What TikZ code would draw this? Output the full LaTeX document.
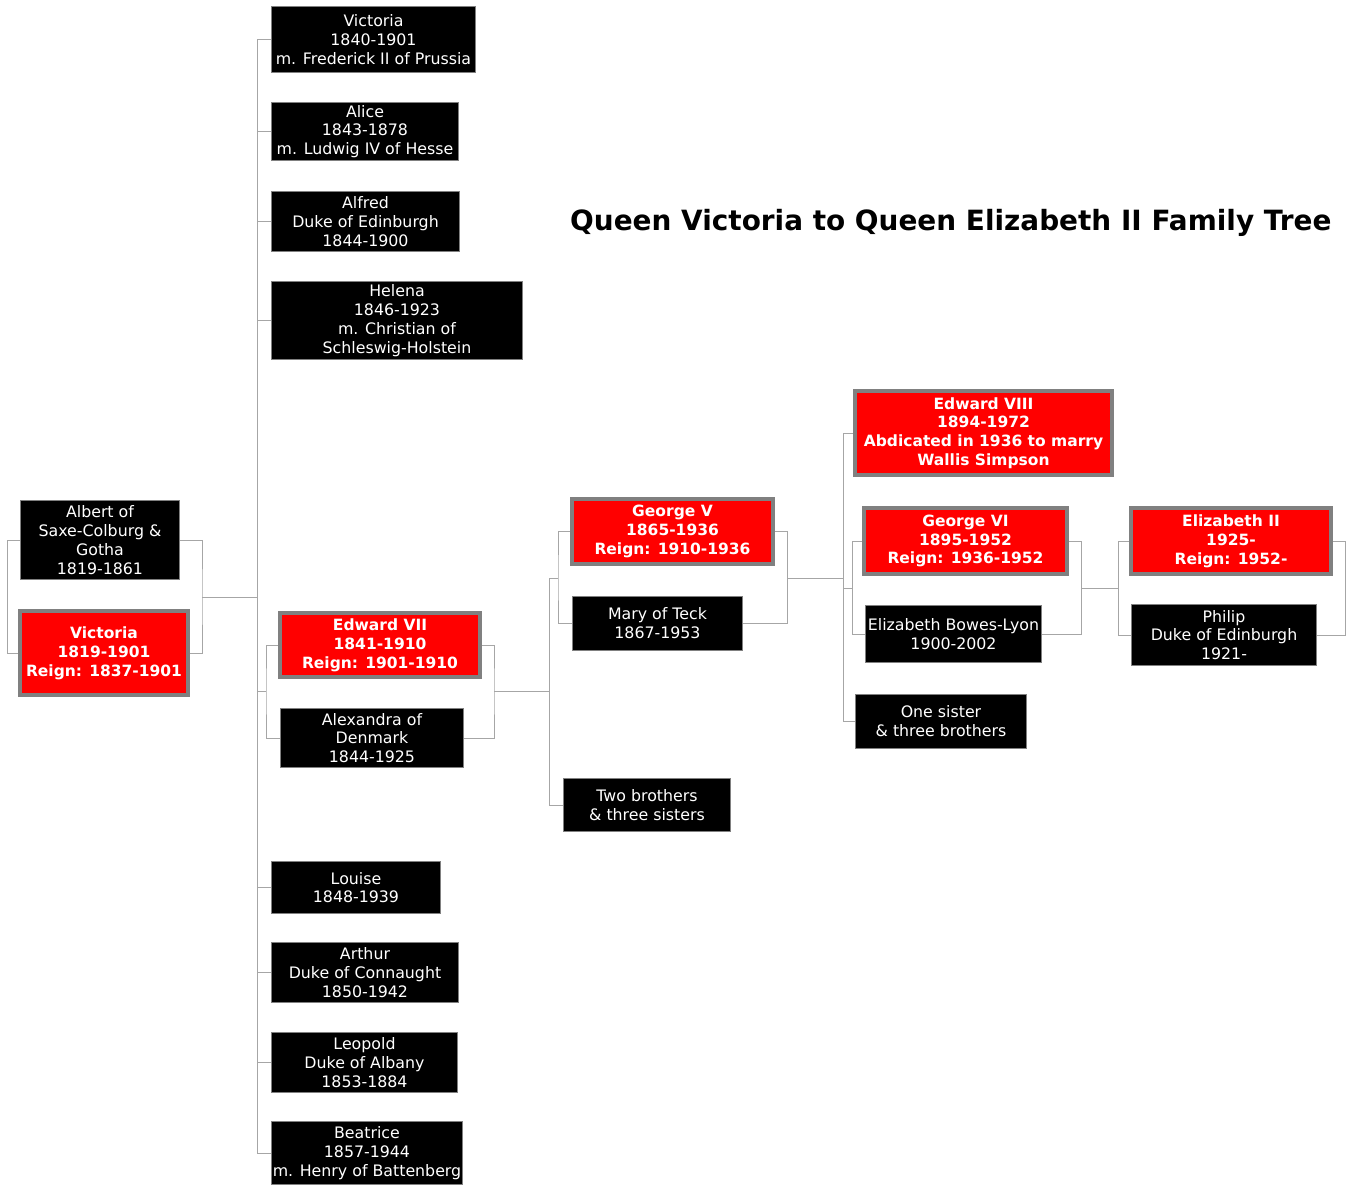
\documentclass[tikz,border=0pt]{standalone}
\usepackage{fontspec}
\setmainfont{DejaVu Sans}
\usepackage{tikz}

\tikzset{
	person/.style={fill=black, draw=gray, line width=1pt, text=white, align=center, inner sep=0pt, font=\fontsize{15.8}{18.8}\selectfont},
	royal/.style={fill=red, draw=gray, line width=4pt, text=white, align=center, inner sep=0pt, font=\fontsize{15.5}{18.8}\selectfont\bfseries},
	dims/.style 2 args={minimum width=#1, minimum height=#2},
	link/.style={draw=gray!70, line width=1pt}
}

\begin{document}
\begin{tikzpicture}[x=1pt,y=-1pt]
	\useasboundingbox (0,0) rectangle (1351,1185);
	\node[anchor=west, inner sep=0pt, font=\fontsize{27.9}{32}\selectfont\bfseries] (title) at (570,222.5) {Queen Victoria to Queen Elizabeth II Family Tree};

	\node[person, dims={159}{79}] (albert) at (100,540) {Albert of\\Saxe-Colburg \&\\Gotha\\1819-1861};
	\node[royal, dims={168}{84}] (queen) at (104,653) {Victoria\\1819-1901\\Reign: 1837-1901};

	\node[person, dims={204}{66}] (vicky) at (373.5,39.5) {Victoria\\1840-1901\\m. Frederick II of Prussia};
	\node[person, dims={187}{58}] (alice) at (365,131.5) {Alice\\1843-1878\\m. Ludwig IV of Hesse};
	\node[person, dims={188}{60}] (alfred) at (365.5,221.5) {Alfred\\Duke of Edinburgh\\1844-1900};
	\node[person, dims={251}{78}] (helena) at (397,320.5) {Helena\\1846-1923\\m. Christian of\\Schleswig-Holstein};
	\node[royal, dims={200}{64}] (edward) at (380,645) {Edward VII\\1841-1910\\Reign: 1901-1910};
	\node[person, dims={183}{59}] (alexandra) at (372,738) {Alexandra of\\Denmark\\1844-1925};
	\node[person, dims={169}{52}] (louise) at (356,887.5) {Louise\\1848-1939};
	\node[person, dims={187}{60}] (arthur) at (365,972.5) {Arthur\\Duke of Connaught\\1850-1942};
	\node[person, dims={186}{60}] (leopold) at (364.5,1062.5) {Leopold\\Duke of Albany\\1853-1884};
	\node[person, dims={191}{63}] (beatrice) at (367,1153) {Beatrice\\1857-1944\\m. Henry of Battenberg};

	\node[royal, dims={201}{65}] (georgev) at (672.5,531.5) {George V\\1865-1936\\Reign: 1910-1936};
	\node[person, dims={170}{54}] (mary) at (657.5,623.5) {Mary of Teck\\1867-1953};
	\node[person, dims={167}{53}] (brothers) at (647,805) {Two brothers\\\& three sisters};

	\node[royal, dims={257}{84}] (edwardviii) at (983.5,433) {Edward VIII\\1894-1972\\Abdicated in 1936 to marry\\Wallis Simpson};
	\node[royal, dims={203}{66}] (georgevi) at (965.5,541) {George VI\\1895-1952\\Reign: 1936-1952};
	\node[person, dims={176}{57}] (bowes) at (953.5,634) {Elizabeth Bowes-Lyon\\1900-2002};
	\node[person, dims={171}{54}] (sister) at (941,721.5) {One sister\\\& three brothers};

	\node[royal, dims={200}{66}] (elizabeth) at (1231,541) {Elizabeth II\\1925-\\Reign: 1952-};
	\node[person, dims={185}{61}] (philip) at (1224,635) {Philip\\Duke of Edinburgh\\1921-};

	\coordinate (parR) at (202,597);
	\coordinate (trunk) at (257,597);
	\coordinate (edL) at (266,691);
	\coordinate (edR) at (494,691);
	\coordinate (gen2) at (549,691);
	\coordinate (gvL) at (558,578);
	\coordinate (gvR) at (787,578);
	\coordinate (gen3) at (843,578);
	\coordinate (gsL) at (852,588);
	\coordinate (gsR) at (1081,588);
	\coordinate (elL) at (1118,588);
	\coordinate (elR) at (1345,588);

	\draw[link] (albert.west) -- ++(-13,0) |- (queen.west);
	\draw[link] (albert.east) -| (parR) |- (queen.east);
	\draw[link] (parR) -- (trunk);
	\draw[link] (vicky.west) -- ++(-14,0) |- (beatrice.west);
	\foreach \kid in {alice,alfred,helena,louise,arthur,leopold}
		\draw[link] (\kid.west) -- ++(-14,0);
	\draw[link] (edward.west) -| (edL) |- (alexandra.west);
	\draw[link] (edL) -- (edL -| trunk);
	\draw[link] (edward.east) -| (edR) |- (alexandra.east);
	\draw[link] (edR) -- (gen2);
	\draw[link] (georgev.west) -| (gvL) |- (mary.west);
	\draw[link] (gvL) -- (gvL -| gen2) |- (brothers.west);
	\draw[link] (georgev.east) -| (gvR) |- (mary.east);
	\draw[link] (gvR) -- (gen3);
	\draw[link] (edwardviii.west) -| (gen3) |- (sister.west);
	\draw[link] (georgevi.west) -| (gsL) |- (bowes.west);
	\draw[link] (gsL) -- (gsL -| gen3);
	\draw[link] (georgevi.east) -| (gsR) |- (bowes.east);
	\draw[link] (gsR) -- (elL);
	\draw[link] (elizabeth.west) -| (elL) |- (philip.west);
	\draw[link] (elizabeth.east) -| (elR) |- (philip.east);
\end{tikzpicture}
\end{document}
